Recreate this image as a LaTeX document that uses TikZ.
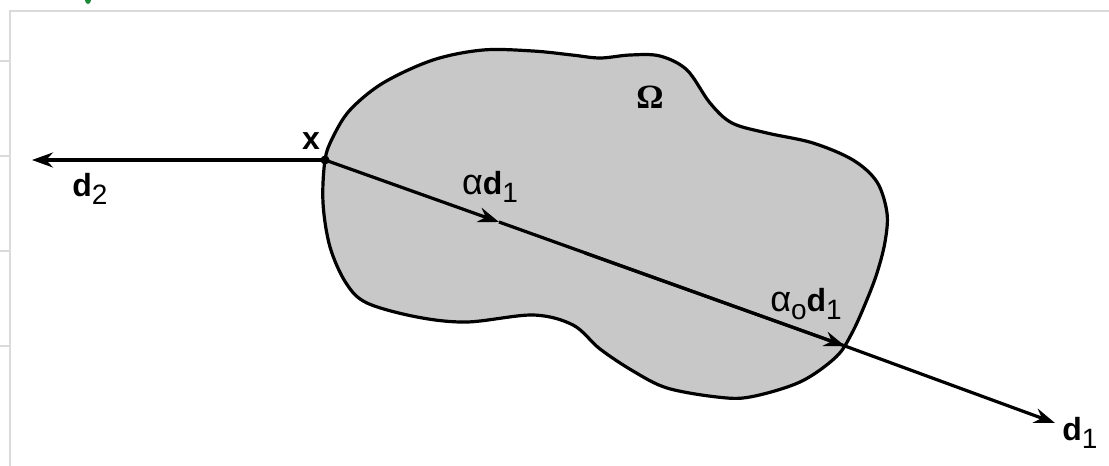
\documentclass[tikz,border=0pt]{standalone}
\usepackage{fontspec}
\setsansfont{Liberation Sans}
\newfontfamily\serifgreek{Liberation Serif}
\usetikzlibrary{arrows.meta,calc}
\definecolor{blobgray}{HTML}{C8C8C8}
\definecolor{framegray}{HTML}{DADADA}
\definecolor{markgreen}{HTML}{1A8A3A}
\newcommand{\subsc}[1]{\raisebox{-8pt}{\fontsize{28}{28}\selectfont\mdseries #1}}
\newcommand{\alphsym}{{\fontsize{36}{36}\selectfont\mdseries α}}
\tikzset{
  x=1pt, y=-1pt,
  vec/.style={line width=3.2pt, -{Stealth[length=21pt,width=15pt,inset=7pt]}},
  seg/.style={line width=3.2pt},
  lbl/.style={font=\fontsize{32}{34}\selectfont\sffamily\bfseries, inner sep=0pt},
  frameline/.style={draw=framegray, line width=1.2pt}
}
\begin{document}
\begin{tikzpicture}
\useasboundingbox (0,0) rectangle (1109,466);
\fill[white] (0,0) rectangle (1109,466);
% screenshot frame
\draw[frameline] (10,466) -- (10,11) -- (1109,11);
\foreach \yy in {61,156,251,346} \draw[frameline] (0,\yy) -- (10,\yy);
\fill[markgreen] (88,0) ellipse (3pt and 4pt);
% region Omega
\draw[line width=3.2pt, fill=blobgray] plot[smooth cycle, tension=0.55] coordinates {
 (325,160) (333,137) (350,110) (383,83) (433,60) (483,50) (533,51) (572,55) (600,58)
 (630,55) (660,56) (687,70) (710,103) (732,123) (767,133) (813,143) (853,160) (877,182)
 (887,213) (885,242) (877,273) (866,302) (852,333) (836,357) (800,382) (750,397)
 (717,397) (667,388) (633,371) (600,349) (573,325) (533,315) (467,322) (417,317)
 (367,303) (346,283) (330,247) (323,203)};
% points
\coordinate (x) at (325,160);
\coordinate (d2tip) at (32,160);
\coordinate (mid) at (499,222);
\coordinate (exit) at (845,346);
\coordinate (d1tip) at (1055,423);
% vectors
\draw[vec] (x) -- (d2tip);
\draw[vec] (x) -- (mid);
\draw[seg] (mid) -- (exit);
\draw[vec] ($(x)!0.5!(exit)$) -- (exit);
\draw[vec] (exit) -- (d1tip);
\fill (x) circle (4.5pt);
% labels
\node[lbl] (lx) at (311,141) {x};
\node[lbl] (ld2) at (90,189) {d\subsc{2}};
\node[lbl] (lad1) at (490,187) {\alphsym d\subsc{1}};
\node[font=\fontsize{34}{36}\selectfont\serifgreek\bfseries, inner sep=0pt] (lom) at (650,97) {Ω};
\node[lbl] (la0d1) at (806,304) {\alphsym\subsc{o}d\subsc{1}};
\node[lbl] (ld1) at (1080,433) {d\subsc{1}};
\end{tikzpicture}
\end{document}
